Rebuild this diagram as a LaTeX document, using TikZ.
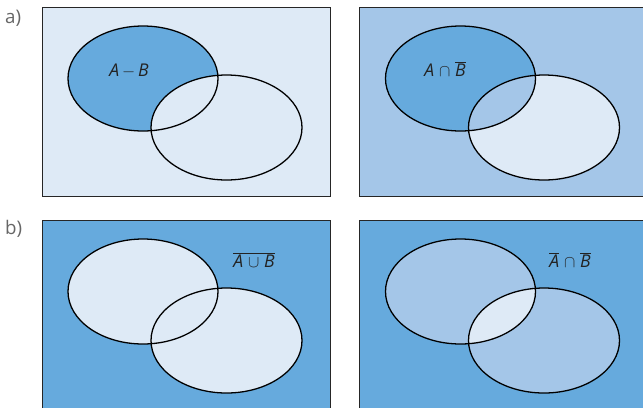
\documentclass[tikz,border=0pt]{standalone}
\usepackage{fontspec}
\setmainfont{Open Sans}
\usepackage{tikz}
\definecolor{lightblue}{RGB}{222,234,246}
\definecolor{midblue}{RGB}{164,198,232}
\definecolor{darkblue}{RGB}{102,170,221}
\definecolor{labelgray}{RGB}{35,35,35}
\newcommand{\ovl}[1]{$\overline{\hbox{#1}}$}

\begin{document}
\begin{tikzpicture}[
    x=0.03cm, y=-0.03cm,
    panel/.style={draw=black!85, line width=0.7pt},
    setline/.style={draw=black, line width=1.1pt},
    setlabel/.style={font=\fontsize{15}{18}\selectfont, text=labelgray, inner sep=0pt},
    partlabel/.style={font=\fontsize{16}{19}\selectfont, text=black!60, anchor=west, inner sep=0pt}
]
\def\setA{(143,78.5) ellipse [x radius=75, y radius=52.5]}
\def\setB{(226.5,127.5) ellipse [x radius=75.5, y radius=52.5]}
\clip (0,0) rectangle (643,407);

% a) left: A - B
\fill[lightblue, panel] (42,7) rectangle (330,196);
\fill[darkblue] \setA;
\fill[lightblue] \setB;
\draw[setline] \setA;
\draw[setline] \setB;
\node[setlabel] (amb) at (129,71) {\itshape A\,$-$\,B};

% a) right: A and not B
\begin{scope}[xshift=317.5*0.03cm]
\fill[midblue, panel] (41.5,7) rectangle (330,196);
\fill[darkblue] \setA;
\fill[lightblue] \setB;
\begin{scope}
\clip \setA;
\fill[midblue] \setB;
\end{scope}
\draw[setline] \setA;
\draw[setline] \setB;
\node[setlabel] (anb) at (127.5,69) {\itshape A\;$\cap$\;\ovl{\itshape B}};
\end{scope}

% b) left: complement of A or B
\begin{scope}[yshift=-213*0.03cm]
\fill[darkblue, panel] (42,7) rectangle (330,200);
\fill[lightblue] \setA;
\fill[lightblue] \setB;
\draw[setline] \setA;
\draw[setline] \setB;
\node[setlabel] (aub) at (254,47) {\ovl{\itshape A\;$\cup$\;B}};
\end{scope}

% b) right: not A and not B
\begin{scope}[xshift=317.5*0.03cm, yshift=-213*0.03cm]
\fill[darkblue, panel] (41.5,7) rectangle (330,200);
\fill[midblue] \setA;
\fill[midblue] \setB;
\begin{scope}
\clip \setA;
\fill[lightblue] \setB;
\end{scope}
\draw[setline] \setA;
\draw[setline] \setB;
\node[setlabel] (nanb) at (252.5,47) {\ovl{\itshape A}\;$\cap$\;\ovl{\itshape B}};
\end{scope}

% part labels
\node[partlabel] (pa) at (5,18) {a)};
\node[partlabel] (pb) at (5,229) {b)};
\end{tikzpicture}
\end{document}
